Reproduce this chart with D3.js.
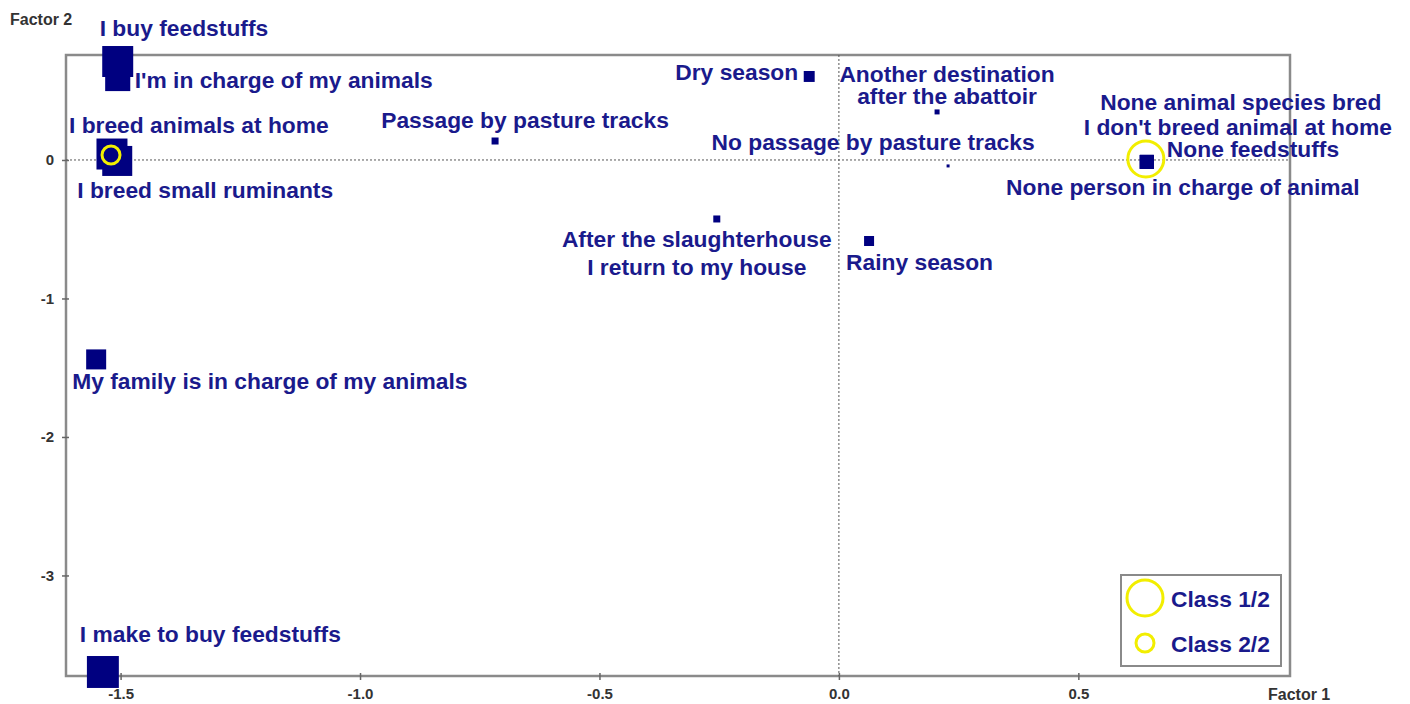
<!DOCTYPE html>
<html>
<head>
<meta charset="utf-8">
<script src="https://cdn.jsdelivr.net/npm/d3@7"></script>
<style>
  html, body { margin: 0; padding: 0; background: #fff; }
  svg { display: block; font-family: "Liberation Sans", Arial, sans-serif; }
</style>
</head>
<body>
<svg id="chart" width="1410" height="704"></svg>
<script>
// ---------- data ----------
const categories = [
  "I buy feedstuffs",
  "I'm in charge of my animals",
  "I breed animals at home",
  "I breed small ruminants",
  "My family is in charge of my animals",
  "I make to buy feedstuffs",
  "Dry season",
  "Another destination after the abattoir",
  "No passage by pasture tracks",
  "After the slaughterhouse I return to my house",
  "Rainy season",
  "Passage by pasture tracks",
  "None animal species bred",
  "I don't breed animal at home",
  "None feedstuffs",
  "None person in charge of animal"
];
const factor1 = [-1.506, -1.506, -1.518, -1.507, -1.551, -1.537, -0.062, 0.205, 0.228, -0.255, 0.063, -0.718, 0.643, 0.643, 0.643, 0.643];
const factor2 = [0.711, 0.588, 0.043, -0.007, -1.440, -3.697, 0.603, 0.347, -0.043, -0.426, -0.585, 0.137, -0.014, -0.014, -0.014, -0.014];
const weights = [9.6, 6.3, 9.6, 9.0, 4.0, 10.2, 1.2, 0.25, 0.09, 0.49, 1.0, 0.49, 1.96, 1.96, 1.96, 1.96];

const classNames = ["Class 1/2", "Class 2/2"];
const classF1 = [0.641, -1.520];
const classF2 = [0.007, 0.036];
const classWeights = [4.0, 1.0];

const xTicks = [-1.5, -1.0, -0.5, 0.0, 0.5];
const yTicks = [0, -1, -2, -3];
const xTitle = "Factor 1";
const yTitle = "Factor 2";

// ---------- label layout (text lines, offsets from point in px, anchor) ----------
const labelLayout = [
  { lines: ["I buy feedstuffs"], dx: -18, dy: -26, anchor: "start", lh: 0 },
  { lines: ["I'm in charge of my animals"], dx: 17, dy: 9, anchor: "start", lh: 0 },
  { lines: ["I breed animals at home"], dx: -43, dy: -21, anchor: "start", lh: 0 },
  { lines: ["I breed small ruminants"], dx: -40, dy: 37, anchor: "start", lh: 0 },
  { lines: ["My family is in charge of my animals"], dx: -24, dy: 30, anchor: "start", lh: 0 },
  { lines: ["I make to buy feedstuffs"], dx: -23, dy: -30, anchor: "start", lh: 0 },
  { lines: ["Dry season"], dx: -11, dy: 4, anchor: "end", lh: 0 },
  { lines: ["Another destination", "after the abattoir"], dx: 10, dy: -30, anchor: "middle", lh: 22 },
  { lines: ["No passage by pasture tracks"], dx: -75, dy: -16, anchor: "middle", lh: 0 },
  { lines: ["After the slaughterhouse", "I return to my house"], dx: -20, dy: 28, anchor: "middle", lh: 28 },
  { lines: ["Rainy season"], dx: -23, dy: 29, anchor: "start", lh: 0 },
  { lines: ["Passage by pasture tracks"], dx: 30, dy: -13, anchor: "middle", lh: 0 },
  { lines: ["None animal species bred"], dx: 94, dy: -52, anchor: "middle", lh: 0 },
  { lines: ["I don't breed animal at home"], dx: 91, dy: -27, anchor: "middle", lh: 0 },
  { lines: ["None feedstuffs"], dx: 20, dy: -5, anchor: "start", lh: 0 },
  { lines: ["None person in charge of animal"], dx: 36, dy: 33, anchor: "middle", lh: 0 }
];

// ---------- drawing ----------
const svg = d3.select("#chart");
const plot = { left: 66, top: 55, right: 1290, bottom: 676 };

const x = d3.scaleLinear().domain([-1.614, 0.942]).range([plot.left, plot.right]);
const y = d3.scaleLinear().domain([0.758, -3.726]).range([plot.top, plot.bottom]);
const side = d3.scaleSqrt().domain([0, 10.24]).range([0, 32]);
const radius = d3.scaleSqrt().domain([0, 1]).range([0, 9]);

const labelColor = "#1a1a8c";
const markColor = "#000080";
const axisColor = "#333";
const yellow = "#f2ee00";
const labelSize = 22.8;

// frame
svg.append("rect")
  .attr("x", plot.left).attr("y", plot.top)
  .attr("width", plot.right - plot.left).attr("height", plot.bottom - plot.top)
  .attr("fill", "none").attr("stroke", "#8a8a8a").attr("stroke-width", 2.5);

// zero reference lines
svg.append("line")
  .attr("x1", plot.left).attr("x2", plot.right)
  .attr("y1", y(0)).attr("y2", y(0))
  .attr("stroke", "#555").attr("stroke-width", 1).attr("stroke-dasharray", "2,2");
svg.append("line")
  .attr("x1", x(0)).attr("x2", x(0))
  .attr("y1", plot.top).attr("y2", plot.bottom)
  .attr("stroke", "#555").attr("stroke-width", 1).attr("stroke-dasharray", "2,2");

// x axis
const gx = svg.append("g").attr("transform", `translate(0,${plot.bottom})`)
  .call(d3.axisBottom(x).tickValues(xTicks).tickFormat(d => d.toFixed(1)).tickSizeOuter(0).tickSize(4).tickPadding(6));
gx.select(".domain").remove();
gx.selectAll(".tick line").attr("y1", -3).attr("y2", 4).attr("stroke", "#666").attr("stroke-width", 1.5);
gx.selectAll(".tick text").attr("fill", axisColor).attr("font-size", 15).attr("font-weight", "bold")
  .attr("font-family", "Liberation Sans, Arial, sans-serif").attr("dy", "0.85em");

// y axis
const gy = svg.append("g").attr("transform", `translate(${plot.left},0)`)
  .call(d3.axisLeft(y).tickValues(yTicks).tickFormat(d => String(d)).tickSizeOuter(0).tickSize(4).tickPadding(8));
gy.select(".domain").remove();
gy.selectAll(".tick line").attr("x1", -4).attr("x2", 3).attr("stroke", "#666").attr("stroke-width", 1.5);
gy.selectAll(".tick text").attr("fill", axisColor).attr("font-size", 15).attr("font-weight", "bold")
  .attr("font-family", "Liberation Sans, Arial, sans-serif");

// axis titles
svg.append("text").attr("x", 10).attr("y", 25).text(yTitle)
  .attr("fill", axisColor).attr("font-size", 16).attr("font-weight", "bold");
svg.append("text").attr("x", 1268).attr("y", 700).text(xTitle)
  .attr("fill", axisColor).attr("font-size", 16).attr("font-weight", "bold");

// points
const pts = categories.map((c, i) => ({ name: c, f1: factor1[i], f2: factor2[i], w: weights[i], lay: labelLayout[i] }));

svg.append("g").selectAll("rect").data(pts).join("rect")
  .attr("x", d => x(d.f1) - side(d.w) / 2)
  .attr("y", d => y(d.f2) - side(d.w) / 2)
  .attr("width", d => side(d.w))
  .attr("height", d => side(d.w))
  .attr("fill", markColor);

// labels
const lg = svg.append("g");
pts.forEach(d => {
  const px = x(d.f1), py = y(d.f2);
  const t = lg.append("text")
    .attr("text-anchor", d.lay.anchor)
    .attr("fill", labelColor)
    .attr("font-size", labelSize)
    .attr("font-weight", "bold");
  d.lay.lines.forEach((line, k) => {
    t.append("tspan")
      .attr("x", px + d.lay.dx)
      .attr("y", py + d.lay.dy + k * d.lay.lh)
      .text(line);
  });
});

// class circles
const cls = classNames.map((n, i) => ({ name: n, f1: classF1[i], f2: classF2[i], w: classWeights[i] }));
svg.append("g").selectAll("circle").data(cls).join("circle")
  .attr("cx", d => x(d.f1)).attr("cy", d => y(d.f2))
  .attr("r", d => radius(d.w))
  .attr("fill", "none").attr("stroke", yellow).attr("stroke-width", 3);

// legend
const legend = svg.append("g");
legend.append("rect")
  .attr("x", 1121).attr("y", 575).attr("width", 160).attr("height", 91)
  .attr("fill", "#fff").attr("stroke", "#8a8a8a").attr("stroke-width", 2);
const legendItems = legend.selectAll("g.item").data(cls).join("g").attr("class", "item")
  .attr("transform", (d, i) => `translate(1145,${598 + i * 45})`);
legendItems.append("circle")
  .attr("r", d => radius(d.w))
  .attr("fill", "none").attr("stroke", yellow).attr("stroke-width", 3);
legendItems.append("text")
  .attr("x", 26).attr("y", 9)
  .attr("fill", labelColor).attr("font-size", labelSize).attr("font-weight", "bold")
  .text(d => d.name);
</script>
</body>
</html>
